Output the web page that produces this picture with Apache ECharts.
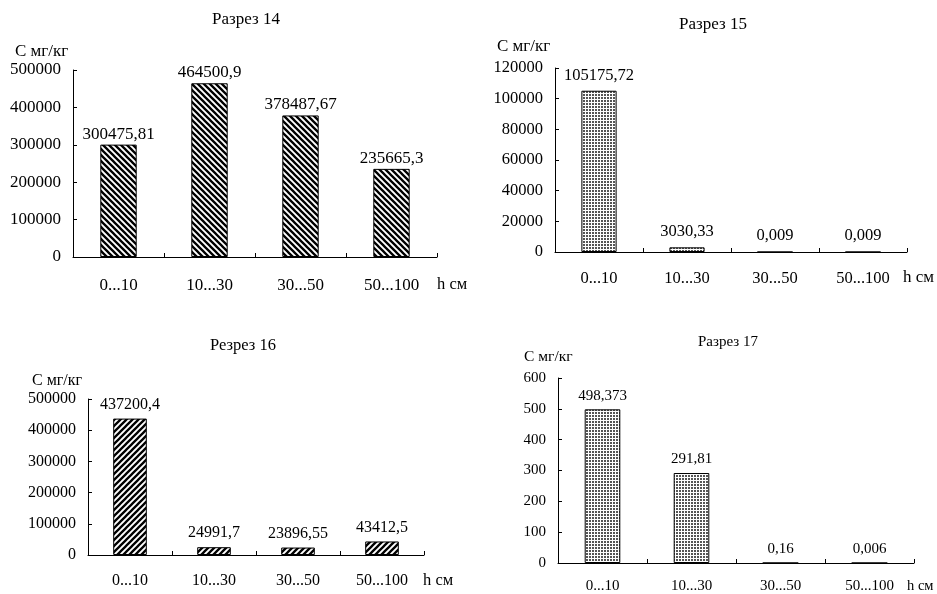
<!DOCTYPE html>
<html><head><meta charset="utf-8">
<script src="https://cdn.jsdelivr.net/npm/echarts@6/dist/echarts.min.js"></script>
<style>html,body{margin:0;padding:0;background:#fff}#c{width:937px;height:594px}</style>
</head><body><div id="c"></div>
<script>
const categories = ['0...10', '10...30', '30...50', '50...100'];
const titles = ['Разрез 14', 'Разрез 15', 'Резрез 16', 'Разрез 17'];
const values14 = [300475.81, 464500.9, 378487.67, 235665.3];
const values15 = [105175.72, 3030.33, 0.009, 0.009];
const values16 = [437200.4, 24991.7, 23896.55, 43412.5];
const values17 = [498.373, 291.81, 0.16, 0.006];
const yMax = [500000, 120000, 500000, 600];
const yInterval = [100000, 20000, 100000, 100];
const yName = 'С мг/кг';
const xName = 'h см';

const FONT = "'Liberation Serif', 'Times New Roman', serif";

function stripes(dir) {
  const s = 6, c = document.createElement('canvas');
  c.width = s; c.height = s;
  const g = c.getContext('2d');
  g.fillStyle = '#fff'; g.fillRect(0, 0, s, s);
  g.strokeStyle = '#000'; g.lineWidth = 2.3;
  g.beginPath();
  if (dir === 'back') {
    g.moveTo(-s, 0); g.lineTo(s, 2 * s);
    g.moveTo(0, 0); g.lineTo(s, s);
    g.moveTo(0, -s); g.lineTo(2 * s, s);
  } else {
    g.moveTo(0, s); g.lineTo(s, 0);
    g.moveTo(-s, s); g.lineTo(s, -s);
    g.moveTo(0, 2 * s); g.lineTo(2 * s, 0);
  }
  g.stroke();
  return c;
}
function dots() {
  const s = 3, c = document.createElement('canvas');
  c.width = s; c.height = s;
  const g = c.getContext('2d');
  g.fillStyle = '#fff'; g.fillRect(0, 0, s, s);
  g.fillStyle = '#555'; g.fillRect(1, 1, 2, 2);
  return c;
}
const patterns = [stripes('back'), dots(), stripes('fwd'), dots()];
const seriesValues = [values14, values15, values16, values17];

const layouts = [
  {left: 73, top: 70, width: 364, height: 187, title: [246, 20], tfs: 17, yname: [15, 52], yfs: 17, xname: [437, 285], xfs: 16.5, fs: 17, dist: 2, xmargin: 20},
  {left: 555, top: 68, width: 352, height: 184, title: [713, 25], tfs: 17, yname: [497, 47], yfs: 17, xname: [903, 278], xfs: 17, fs: 16.5, dist: 7, xmargin: 18},
  {left: 88, top: 399, width: 336, height: 156, title: [243, 346], tfs: 16.5, yname: [32, 381], yfs: 16, xname: [423, 581], xfs: 16.5, fs: 16, dist: 6, xmargin: 18},
  {left: 558, top: 378, width: 356, height: 185, title: [728, 342], tfs: 15, yname: [524, 357], yfs: 15.5, xname: [907, 586], xfs: 14.5, fs: 15, dist: 6, xmargin: 16}
];

const grid = [], xAxis = [], yAxis = [], series = [], graphic = [];
layouts.forEach((L, i) => {
  grid.push({left: L.left, top: L.top, width: L.width, height: L.height, containLabel: false, outerBoundsMode: 'none'});
  xAxis.push({
    type: 'category', gridIndex: i, data: categories, boundaryGap: true,
    axisLine: {show: true, lineStyle: {color: '#000', width: 1}},
    axisTick: {show: true, inside: true, length: 4, lineStyle: {color: '#000'}},
    axisLabel: {color: '#000', fontFamily: FONT, fontSize: L.fs, margin: L.xmargin},
    splitLine: {show: false}
  });
  yAxis.push({
    type: 'value', gridIndex: i, min: 0, max: yMax[i], interval: yInterval[i],
    axisLine: {show: true, lineStyle: {color: '#000', width: 1}},
    axisTick: {show: true, inside: true, length: 4, lineStyle: {color: '#000'}},
    axisLabel: {color: '#000', fontFamily: FONT, fontSize: L.fs, margin: 12, formatter: v => String(v)},
    splitLine: {show: false}
  });
  series.push({
    type: 'bar', xAxisIndex: i, yAxisIndex: i, data: seriesValues[i], barWidth: '40%',
    itemStyle: {color: {image: patterns[i], repeat: 'repeat'}, borderColor: '#000', borderWidth: 1},
    label: {show: true, position: 'top', distance: L.dist, color: '#000', fontFamily: FONT, fontSize: L.fs,
      formatter: p => String(p.value).replace('.', ',')},
    emphasis: {disabled: true}, animation: false
  });
  graphic.push({type: 'text', x: L.title[0], y: L.title[1], style: {text: titles[i], fill: '#000', font: L.tfs + 'px ' + FONT, textAlign: 'center', textVerticalAlign: 'middle'}});
  graphic.push({type: 'text', x: L.yname[0], y: L.yname[1], style: {text: yName, fill: '#000', font: L.yfs + 'px ' + FONT, textAlign: 'left', textVerticalAlign: 'middle'}});
  graphic.push({type: 'text', x: L.xname[0], y: L.xname[1], style: {text: xName, fill: '#000', font: L.xfs + 'px ' + FONT, textAlign: 'left', textVerticalAlign: 'middle'}});
});

const chart = echarts.init(document.getElementById('c'), null, {renderer: 'canvas'});
chart.setOption({animation: false, backgroundColor: '#fff', grid, xAxis, yAxis, series, graphic, tooltip: {show: false}});
</script></body></html>
